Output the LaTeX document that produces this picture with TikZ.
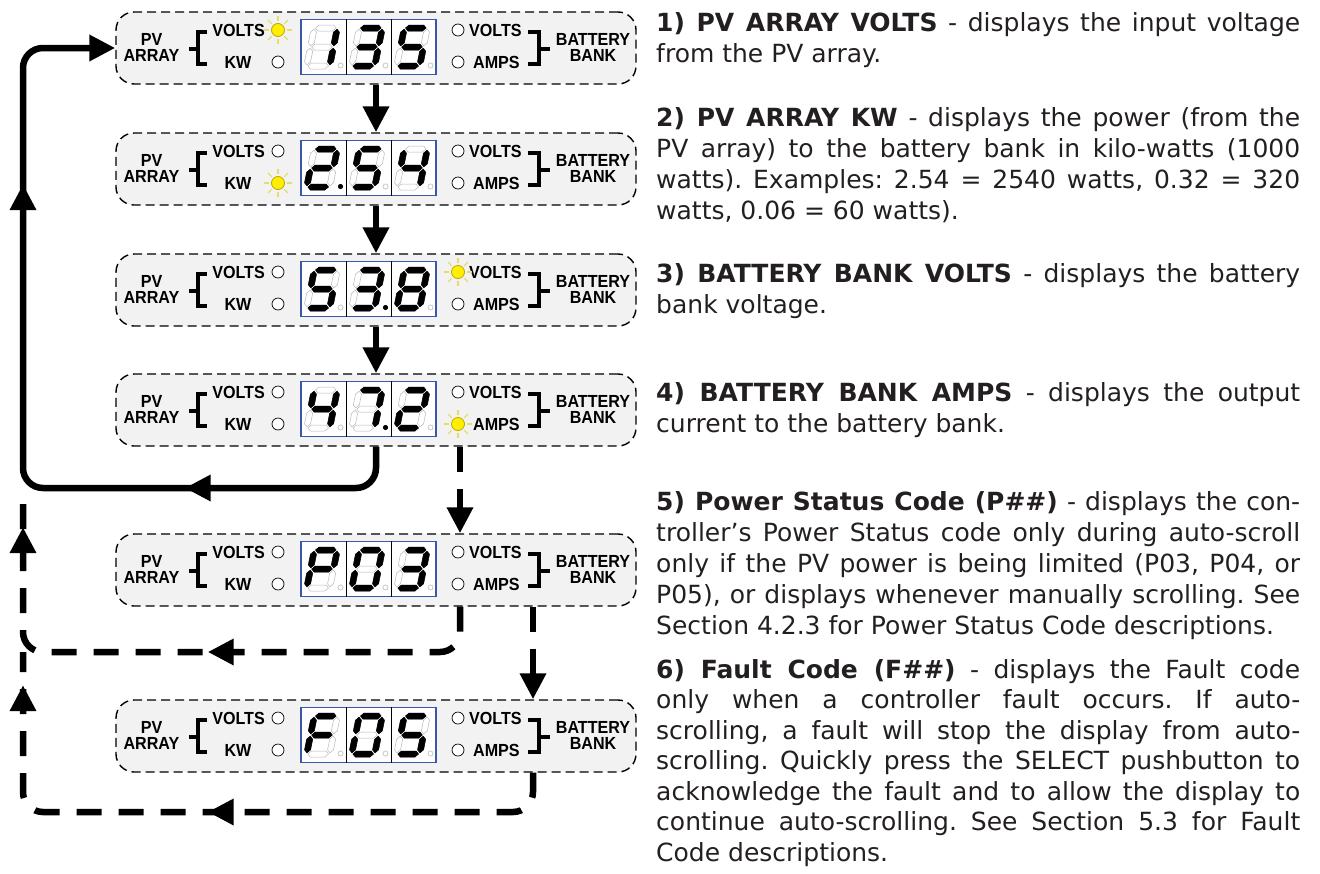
\documentclass[tikz,border=0pt]{standalone}
\usepackage{fontspec}
\setmainfont{DejaVu Sans}
\newfontfamily\labelfont{Liberation Sans}[FakeStretch=0.92]
\usepackage{xcolor}
\usepackage{tikz}
\usetikzlibrary{arrows.meta}
\usetikzlibrary{calc}
\usetikzlibrary{positioning}
\usetikzlibrary{decorations.markings}

\definecolor{dispblue}{RGB}{58,88,168}
\definecolor{ledyellow}{RGB}{255,238,0}
\definecolor{ledrim}{RGB}{190,170,0}
\definecolor{raycol}{RGB}{230,220,110}
\definecolor{inkgray}{RGB}{35,31,32}
\definecolor{panelgray}{RGB}{242,242,242}

\tolerance=10000
\hbadness=10000
\hyphenpenalty=10000
\frenchspacing

\tikzset{
  panel/.style={draw, dash pattern=on 9pt off 5pt, line width=1.4pt, fill=panelgray,
    rounded corners=18pt, minimum width=520pt, minimum height=72pt, inner sep=0pt},
  lbl/.style={font=\labelfont\bfseries\fontsize{17.5}{16}\selectfont, inner sep=0pt},
  ledoff/.style={circle, draw, line width=0.7pt, fill=white, minimum size=12pt, inner sep=0pt},
  ray/.style={draw=raycol, line width=1.1pt},
  brk/.style={line width=4.5pt},
  dispbox/.style={draw=dispblue, line width=1.3pt, fill=white, minimum width=135pt,
    minimum height=55pt, inner sep=0pt},
  cellline/.style={line width=0.8pt},
  segoff/.style={draw=black!28, fill=white, line width=0.5pt},
  segon/.style={draw=black, fill=black, line width=0.5pt},
  dpon/.style={fill=black},
  dpoff/.style={draw=black!30, fill=white, line width=0.5pt},
  flow/.style={line width=6.5pt},
  dflow/.style={line width=6.5pt, dash pattern=on 25pt off 17pt},
  note/.style={anchor=base west, text width=644pt, align=justify, inner sep=0pt,
    text=inkgray, font=\fontsize{25}{31}\selectfont}
}

\begin{document}
\begin{tikzpicture}[x=1pt, y=-1pt, >={Triangle[length=26pt,width=25pt]}]

  \useasboundingbox (0,0) rectangle (1320,873);

  % seven segment pieces
  \newcommand\hseg[2]{\filldraw[#2] (-10.3,#1) -- (-7.3,#1-3) -- (7.3,#1-3) -- (10.3,#1)
    -- (7.3,#1+3) -- (-7.3,#1+3) -- cycle;}
  \newcommand\vseg[4]{\filldraw[#4] (#1,#2+1.2) -- (#1+3,#2+4.2) -- (#1+3,#3-4.2)
    -- (#1,#3-1.2) -- (#1-3,#3-4.2) -- (#1-3,#2+4.2) -- cycle;}
  \newcommand\segA[1]{\hseg{-19}{#1}}
  \newcommand\segG[1]{\hseg{0}{#1}}
  \newcommand\segD[1]{\hseg{19}{#1}}
  \newcommand\segF[1]{\vseg{-11.5}{-19}{0}{#1}}
  \newcommand\segB[1]{\vseg{11.5}{-19}{0}{#1}}
  \newcommand\segE[1]{\vseg{-11.5}{0}{19}{#1}}
  \newcommand\segC[1]{\vseg{11.5}{0}{19}{#1}}
  \newcommand\segdigit[4]{%
    \begin{scope}[shift={(#1,#2)}, xslant=0.2]
      \foreach \s in {A,B,C,D,E,F,G} {\csname seg\s\endcsname{segoff}}
      \foreach \s in {#3} {\csname seg\s\endcsname{segon}}
    \end{scope}
    \path[dp#4] (#1+18.5,#2+18.5) circle (2.6);}
  \newcommand\litled[1]{%
    \foreach \ang in {0,45,...,315}
      \draw[ray] ($(#1)+(\ang:9)$) -- ($(#1)+(\ang:14)$);
    \filldraw[fill=ledyellow, draw=ledrim, line width=0.8pt] (#1) circle (6.5);}
  \newcommand\dispanel[9]{%
    \node[panel] (p#1) at (376,#2) {};
    \node[lbl, align=center] (pv#1) at (151.5,#2-1) {PV\\ARRAY};
    \draw[brk] (207,#2-16) -- (198,#2-16) -- (198,#2+16) -- (207,#2+16);
    \draw[brk] (189,#2+1) -- (198,#2+1);
    \node[lbl, anchor=east] (tv#1) at (265,#2-18) {VOLTS};
    \node[lbl] (tk#1) at (238,#2+14) {KW};
    \node[ledoff] (lv#1) at (278,#2-18) {};
    \node[ledoff] (lk#1) at (278,#2+14) {};
    \node[dispbox] (d#1) at (368.5,#2-1) {};
    \draw[cellline] (d#1.north -| 346,0) -- (d#1.south -| 346,0);
    \draw[cellline] (d#1.north -| 391,0) -- (d#1.south -| 391,0);
    \segdigit{322}{#2-1}{#4}{#5}
    \segdigit{367}{#2-1}{#6}{#7}
    \segdigit{412}{#2-1}{#8}{#9}
    \node[ledoff] (rv#1) at (458,#2-18) {};
    \node[ledoff] (ra#1) at (458,#2+14) {};
    \node[lbl, anchor=west] (tr#1) at (469,#2-18) {VOLTS};
    \node[lbl, anchor=west] (ta#1) at (473,#2+14) {AMPS};
    \draw[brk] (528,#2-16) -- (539,#2-16) -- (539,#2+16) -- (528,#2+16);
    \draw[brk] (539,#2+1) -- (550,#2+1);
    \node[lbl, align=center] (bb#1) at (593,#2-1) {BATTERY\\BANK};
    \ifx\relax#3\relax\else\litled{#3#1}\fi}

  % the six displays
  \dispanel{1}{48}{lv}{B,C}{off}{A,B,C,D,G}{off}{A,F,G,C,D}{off}
  \dispanel{2}{169}{lk}{A,B,G,E,D}{on}{A,F,G,C,D}{off}{F,G,B,C}{off}
  \dispanel{3}{290}{rv}{A,F,G,C,D}{off}{A,B,C,D,G}{on}{A,B,C,D,E,F,G}{off}
  \dispanel{4}{410}{ra}{F,G,B,C}{off}{A,B,C}{on}{A,B,G,E,D}{off}
  \dispanel{5}{570}{}{A,B,E,F,G}{off}{A,B,C,D,E,F}{off}{A,B,C,D,G}{off}
  \dispanel{6}{736}{}{A,E,F,G}{off}{A,B,C,D,E,F}{off}{A,F,G,C,D}{off}

  \coordinate (colL) at (23,0);
  \coordinate (colA) at (460,0);
  \coordinate (colB) at (533,0);
  \coordinate (rowS) at (0,488);
  \coordinate (rowA) at (0,652);
  \coordinate (rowB) at (0,812);

  % scroll order
  \draw[flow, ->] (p1.south) -- (p2.north);
  \draw[flow, ->] (p2.south) -- (p3.north);
  \draw[flow, ->] (p3.south) -- (p4.north);
  \draw[dflow, ->] (p4.south -| colA) -- (p5.north -| colA);
  \draw[dflow, ->] (p5.south -| colB) -- (p6.north -| colB);

  \draw[flow, ->, rounded corners=20pt, postaction={decorate},
    decoration={markings, mark=at position 224pt with {\arrow{>}},
      mark=at position 681pt with {\arrow{>}}}]
    (p4.south) -- (p4.south |- rowS) -- (colL |- rowS) -- (colL |- p1.west) -- (p1.west);
  \draw[dflow, rounded corners=20pt, postaction={decorate},
    decoration={markings, mark=at position 289pt with {\arrow{>}},
      mark=at position 590pt with {\arrow{>}}}]
    (p5.south -| colA) -- (colA |- rowA) -- (colL |- rowA) -- (colL |- rowS);
  \draw[dflow, rounded corners=20pt, postaction={decorate},
    decoration={markings, mark=at position 356pt with {\arrow{>}},
      mark=at position 659pt with {\arrow{>}}}]
    (p6.south -| colB) -- (colB |- rowB) -- (colL |- rowB) -- (colL |- rowA);

  % descriptions
  \node[note] (n1) at (656,31) {\textbf{1) PV ARRAY VOLTS} - displays the input voltage\linebreak
    from the PV array.};
  \node[note] (n2) at (656,126) {\textbf{2) PV ARRAY KW} - displays the power (from the\linebreak
    PV array) to the battery bank in kilo-watts (1000\linebreak
    watts). Examples: 2.54 = 2540 watts, 0.32 = 320\linebreak
    watts, 0.06 = 60 watts).};
  \node[note] (n3) at (656,282) {\textbf{3) BATTERY BANK VOLTS} - displays the battery\linebreak
    bank voltage.};
  \node[note] (n4) at (656,401) {\textbf{4) BATTERY BANK AMPS} - displays the output\linebreak
    current to the battery bank.};
  \node[note] (n5) at (656,510) {\parfillskip=0pt \textbf{5) Power Status Code (P\#\#)} - displays the con-\linebreak
    troller’s Power Status code only during auto-scroll\linebreak
    only if the PV power is being limited (P03, P04, or\linebreak
    P05), or displays whenever manually scrolling. See\linebreak
    Section 4.2.3 for Power Status Code descriptions.};
  \node[note, font=\fontsize{25}{30.5}\selectfont] (n6) at (656,678) {\textbf{6) Fault Code (F\#\#)} - displays the Fault code\linebreak
    only when a controller fault occurs. If auto-\linebreak
    scrolling, a fault will stop the display from auto-\linebreak
    scrolling. Quickly press the SELECT pushbutton to\linebreak
    acknowledge the fault and to allow the display to\linebreak
    continue auto-scrolling. See Section 5.3 for Fault\linebreak
    Code descriptions.};

\end{tikzpicture}
\end{document}
